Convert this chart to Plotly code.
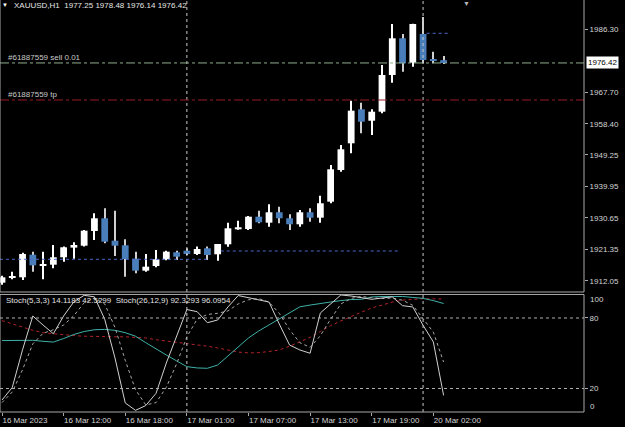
import plotly.graph_objects as go

# ---------------- data ----------------
bar_index = list(range(44))
opens = [1911.54, 1913.10, 1913.14, 1919.81, 1916.60, 1916.86, 1919.04, 1921.90, 1922.47, 1926.81,
         1930.56, 1923.94, 1922.59, 1918.63, 1915.09, 1916.47, 1918.45, 1920.52, 1920.99, 1920.02,
         1921.70, 1919.93, 1922.88, 1927.31, 1927.40, 1931.03, 1929.26, 1932.33, 1930.56, 1928.79,
         1932.33, 1930.74, 1935.46, 1944.82, 1952.70, 1962.74, 1959.37, 1962.03, 1972.87, 1983.70,
         1976.50, 1984.97, 1977.50, 1977.25]
highs = [1913.60, 1914.80, 1920.40, 1920.70, 1920.70, 1922.68, 1922.20, 1923.47, 1927.10, 1932.03,
         1933.51, 1932.80, 1924.36, 1920.70, 1920.02, 1921.20, 1921.00, 1921.00, 1921.70, 1922.20,
         1922.20, 1923.00, 1929.26, 1929.85, 1931.20, 1932.80, 1934.69, 1933.98, 1931.74, 1933.01,
         1933.51, 1937.23, 1946.30, 1952.20, 1965.28, 1964.69, 1962.74, 1975.82, 1987.92, 1984.97,
         1988.00, 1990.00, 1979.75, 1978.48]
lows = [1910.90, 1912.55, 1912.34, 1914.79, 1912.55, 1915.80, 1917.75, 1918.63, 1922.20, 1924.15,
        1923.18, 1919.43, 1913.32, 1914.32, 1914.79, 1916.10, 1918.20, 1918.25, 1919.70, 1919.70,
        1918.25, 1918.04, 1922.17, 1927.20, 1927.10, 1929.09, 1928.08, 1929.09, 1927.10, 1928.08,
        1929.55, 1929.26, 1935.00, 1944.32, 1949.75, 1955.65, 1955.15, 1961.56, 1970.59, 1973.84,
        1975.32, 1976.30, 1976.32, 1976.14]
closes = [1913.14, 1913.50, 1920.02, 1916.68, 1916.80, 1919.04, 1922.00, 1922.68, 1926.90, 1930.56,
          1923.65, 1922.47, 1918.54, 1915.09, 1916.27, 1918.45, 1920.70, 1919.22, 1920.02, 1921.50,
          1919.72, 1922.97, 1927.61, 1927.90, 1931.03, 1929.38, 1932.33, 1930.56, 1928.79, 1932.33,
          1930.74, 1934.99, 1945.03, 1950.93, 1962.33, 1959.08, 1962.03, 1972.87, 1983.70, 1976.32,
          1987.92, 1977.30, 1977.10, 1976.42]

stoch_fast_main = [10.2, 20.9, 52.9, 81.7, 74.0, 66.6, 81.7, 93.8, 99.3, 98.0,
                   79.0, 46.0, 7.7, 1.4, 5.5, 15.9, 41.7, 64.7, 87.2, 85.4,
                   76.0, 78.3, 89.4, 99.1, 97.4, 95.3, 93.6, 74.9, 57.0, 52.8,
                   50.0, 84.3, 91.9, 99.6, 98.7, 97.0, 95.9, 97.0, 98.0, 90.5,
                   89.4, 73.8, 59.6, 14.1183]
stoch_fast_signal = [8.0, 17.0, 36.0, 58.0, 67.0, 70.0, 74.0, 82.0, 93.0, 97.0,
                     92.0, 72.0, 44.0, 19.0, 6.0, 8.0, 21.0, 41.0, 64.0, 79.0,
                     83.0, 84.0, 86.0, 92.0, 95.5, 96.5, 93.5, 84.0, 70.0, 59.0,
                     55.0, 65.0, 79.0, 92.0, 96.7, 98.4, 97.2, 96.6, 97.0, 95.1,
                     90.8, 79.4, 68.0, 42.5299]
stoch_slow_main = [60.8, 60.8, 60.8, 61.0, 60.2, 59.5, 62.5, 66.0, 68.5, 70.0,
                   70.3, 69.5, 67.5, 64.5, 59.0, 53.5, 48.5, 43.5, 38.6, 37.5,
                   37.2, 40.0, 47.6, 55.6, 63.0, 69.0, 74.3, 79.4, 84.4, 89.5,
                   91.0, 92.5, 93.6, 94.8, 95.7, 95.9, 97.9, 98.3, 98.6, 98.3,
                   97.5, 96.7, 94.8, 92.3293]
stoch_slow_signal = [77.8, 75.0, 72.0, 69.5, 67.5, 66.5, 65.5, 65.0, 64.5, 64.2,
                     64.0, 64.0, 64.0, 63.8, 63.0, 61.5, 60.5, 59.5, 58.5, 57.5,
                     56.0, 54.5, 52.5, 51.0, 50.3, 50.5, 51.5, 52.8, 56.0, 59.5,
                     63.5, 68.5, 73.5, 77.5, 81.5, 85.0, 88.5, 91.0, 93.5, 95.2,
                     96.0, 96.4, 96.3, 96.0954]

time_tick_bars = [0, 6, 12, 18, 24, 30, 36, 42]
time_tick_labels = ["16 Mar 2023", "16 Mar 12:00", "16 Mar 18:00", "17 Mar 01:00",
                    "17 Mar 07:00", "17 Mar 13:00", "17 Mar 19:00", "20 Mar 02:00"]
price_ticks = [1912.05, 1921.35, 1930.65, 1939.95, 1949.25, 1958.40, 1967.70, 1986.30]
stoch_ticks = [80, 20]
stoch_levels = [80, 20]
day_separator_bars = [18, 41]

symbol = "XAUUSD,H1"
order_id = "#61887559"
order_label = "sell 0.01"
sell_line_price = 1976.42
tp_price = 1965.49
# closed-trade history lines: (start bar, end bar, price)
history_starts = [-0.2, 21.3, 41.35]
history_ends = [19.95, 38.8, 43.45]
history_prices = [1918.45, 1920.9, 1985.18]

# ---------------- style ----------------
BG = "#000000"
FG = "#d4d4d4"
FRAME = "#a8a8a8"
BULL = "#ffffff"
BEAR = "#4a7ebb"
FONT = "Liberation Sans"

PRICE_DOMAIN = [0.2913, 1.0]
STOCH_DOMAIN = [0.0, 0.2852]

fig = go.Figure()

# wicks (drawn first, as thin bars)
wick_colors = ["#ffffff" if c >= o else "#cfcfcf" for o, c in zip(opens, closes)]
fig.add_trace(go.Bar(
    x=bar_index, base=lows, y=[h - l for h, l in zip(highs, lows)],
    width=0.1, marker=dict(color=wick_colors, line=dict(width=0)),
    xaxis="x", yaxis="y", hoverinfo="skip"))

# bodies
body_base = [min(o, c) for o, c in zip(opens, closes)]
body_len = [max(abs(c - o), 0.3) for o, c in zip(opens, closes)]
body_colors = [BULL if c >= o else BEAR for o, c in zip(opens, closes)]
fig.add_trace(go.Bar(
    x=bar_index, base=body_base, y=body_len, width=0.66,
    marker=dict(color=body_colors, line=dict(width=0)),
    xaxis="x", yaxis="y"))

# stochastic lines
fig.add_trace(go.Scatter(x=bar_index, y=stoch_slow_signal, mode="lines",
                         line=dict(color="#b4232a", width=1, dash="dot"), xaxis="x", yaxis="y2"))
fig.add_trace(go.Scatter(x=bar_index, y=stoch_slow_main, mode="lines",
                         line=dict(color="#3fb1a8", width=1), xaxis="x", yaxis="y2"))
fig.add_trace(go.Scatter(x=bar_index, y=stoch_fast_signal, mode="lines",
                         line=dict(color="#a8a8a8", width=1, dash="dot"), xaxis="x", yaxis="y2"))
fig.add_trace(go.Scatter(x=bar_index, y=stoch_fast_main, mode="lines",
                         line=dict(color="#d0d0d0", width=1), xaxis="x", yaxis="y2"))

shapes = []
# day separators across both panes
for b in day_separator_bars:
    shapes.append(dict(type="line", xref="x", yref="paper", x0=b, x1=b, y0=0, y1=1,
                       line=dict(color="#c8c8c8", width=1, dash="dot")))
# stochastic levels
for lv in stoch_levels:
    shapes.append(dict(type="line", xref="paper", yref="y2", x0=0, x1=1, y0=lv, y1=lv,
                       line=dict(color="#b0b0b0", width=1, dash="dot")))
# history trade lines
for s, e, p in zip(history_starts, history_ends, history_prices):
    shapes.append(dict(type="line", xref="x", yref="y", x0=s, x1=e, y0=p, y1=p,
                       line=dict(color="#4a68c8", width=1, dash="dot")))
# order lines
shapes.append(dict(type="line", xref="paper", yref="y", x0=0, x1=1, y0=sell_line_price, y1=sell_line_price,
                   line=dict(color="#8fae8f", width=1, dash="dashdot")))
shapes.append(dict(type="line", xref="paper", yref="y", x0=0, x1=1, y0=tp_price, y1=tp_price,
                   line=dict(color="#9a1c28", width=1, dash="dashdot")))
# pane frames
shapes.append(dict(type="line", xref="paper", yref="paper", x0=0, x1=1, y0=PRICE_DOMAIN[0], y1=PRICE_DOMAIN[0],
                   line=dict(color=FRAME, width=1)))
shapes.append(dict(type="line", xref="paper", yref="paper", x0=1, x1=1, y0=PRICE_DOMAIN[0], y1=1,
                   line=dict(color=FRAME, width=1)))
shapes.append(dict(type="line", xref="paper", yref="paper", x0=0, x1=0, y0=PRICE_DOMAIN[0], y1=1,
                   line=dict(color=FRAME, width=1)))
shapes.append(dict(type="rect", xref="paper", yref="paper", x0=0, x1=1, y0=STOCH_DOMAIN[0], y1=STOCH_DOMAIN[1],
                   line=dict(color=FRAME, width=1)))

annotations = []
annotations.append(dict(xref="paper", yref="paper", x=0.008, y=0.9875, text="▼", showarrow=False,
                        xanchor="center", yanchor="middle", font=dict(size=6, color="#ffffff", family=FONT)))
header = f"{symbol}\u00a0\u00a0{opens[-1]:.2f} {highs[-1]:.2f} {lows[-1]:.2f} {closes[-1]:.2f}"
annotations.append(dict(xref="paper", yref="paper", x=0.0205, y=0.9875, text=header, showarrow=False,
                        xanchor="left", yanchor="middle", font=dict(size=8, color="#e6e6e6", family=FONT)))
annotations.append(dict(xref="paper", yref="y", x=0.011, y=sell_line_price, text=f"{order_id} {order_label}",
                        showarrow=False, xanchor="left", yanchor="bottom", yshift=-1,
                        font=dict(size=8, color="#c8c8c8", family=FONT)))
annotations.append(dict(xref="paper", yref="y", x=0.011, y=tp_price, text=f"{order_id} tp",
                        showarrow=False, xanchor="left", yanchor="bottom", yshift=-1,
                        font=dict(size=8, color="#c8c8c8", family=FONT)))
# bid price box on axis
annotations.append(dict(xref="paper", yref="y", x=1, y=closes[-1], text=f"{closes[-1]:.2f}",
                        showarrow=False, xanchor="left", yanchor="middle", xshift=2,
                        bgcolor="#ffffff", borderpad=1, font=dict(size=8, color="#000000", family=FONT)))
stoch_text = (f"Stoch(5,3,3) {stoch_fast_main[-1]:.4f} {stoch_fast_signal[-1]:.4f}\u00a0\u00a0"
              f"Stoch(26,12,9) {stoch_slow_main[-1]:.4f} {stoch_slow_signal[-1]:.4f}")
annotations.append(dict(xref="paper", yref="paper", x=0.006, y=0.2718, text=stoch_text, showarrow=False,
                        xanchor="left", yanchor="middle", font=dict(size=8, color="#e0e0e0", family=FONT)))
annotations.append(dict(xref="paper", yref="y2", x=1, y=100, text="100", showarrow=False,
                        xanchor="left", yanchor="middle", xshift=4, yshift=-5,
                        font=dict(size=8, color=FG, family=FONT)))
annotations.append(dict(xref="paper", yref="y2", x=1, y=0, text="0", showarrow=False,
                        xanchor="left", yanchor="middle", xshift=4, yshift=5,
                        font=dict(size=8, color=FG, family=FONT)))
# chart shift marker
annotations.append(dict(xref="paper", yref="paper", x=0.799, y=1, text="▼", showarrow=False,
                        xanchor="center", yanchor="top", yshift=2,
                        font=dict(size=7, color="#b0b0b0", family=FONT)))

fig.update_layout(
    width=625, height=427,
    margin=dict(l=0, r=41, t=0, b=15),
    paper_bgcolor=BG, plot_bgcolor=BG,
    showlegend=False, barmode="overlay",
    font=dict(family=FONT, size=8, color=FG),
    shapes=shapes, annotations=annotations,
    xaxis=dict(domain=[0, 1], anchor="y2", range=[-0.195, 56.67],
               tickmode="array", tickvals=time_tick_bars, ticktext=time_tick_labels,
               ticks="outside", ticklen=3, tickcolor=FRAME, ticklabelposition="outside right",
               tickfont=dict(size=8, color=FG, family=FONT),
               showgrid=False, zeroline=False, showline=False, fixedrange=True),
    yaxis=dict(domain=PRICE_DOMAIN, anchor="x", side="right", range=[1908.80, 1995.01],
               tickmode="array", tickvals=price_ticks, ticktext=[f"{v:.2f}" for v in price_ticks],
               ticks="outside", ticklen=3, tickcolor=FRAME,
               tickfont=dict(size=8, color=FG, family=FONT),
               showgrid=False, zeroline=False, showline=False),
    yaxis2=dict(domain=STOCH_DOMAIN, anchor="x", side="right", range=[0, 100],
                tickmode="array", tickvals=stoch_ticks, ticktext=[str(v) for v in stoch_ticks],
                ticks="outside", ticklen=3, tickcolor=FRAME,
                tickfont=dict(size=8, color=FG, family=FONT),
                showgrid=False, zeroline=False, showline=False),
)

fig.write_html("out.html")
